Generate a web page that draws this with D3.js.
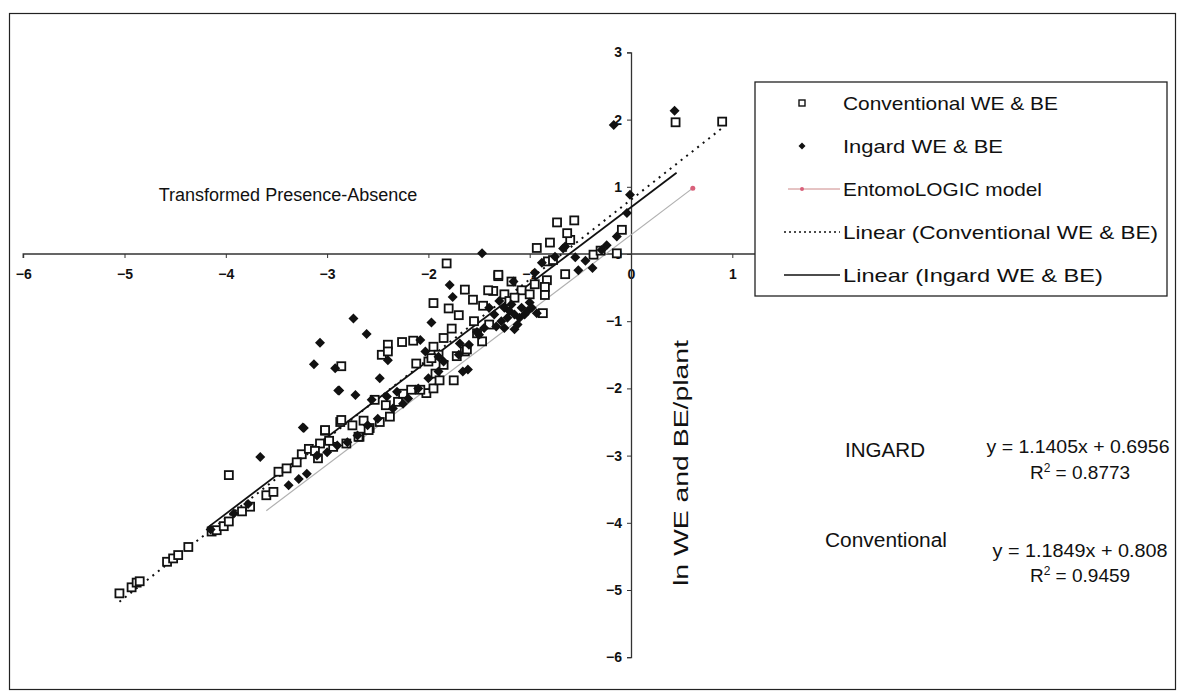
<!DOCTYPE html>
<html><head><meta charset="utf-8">
<script src="https://cdn.jsdelivr.net/npm/d3@7"></script>
<style>body{margin:0;background:#fff}svg{display:block}text{font-family:"Liberation Sans",Arial,sans-serif;fill:#111}</style>
</head><body><svg id="c" width="1184" height="700"></svg>
<script>
const xTicks=[-6,-5,-4,-3,-2,-1,0,1];
const yTicks=[-6,-5,-4,-3,-2,-1,0,1,2,3];
const conventional=[[-5.05,-5.05],[-4.93,-4.96],[-4.88,-4.89],[-4.85,-4.87],[-4.58,-4.58],[-4.52,-4.53],[-4.47,-4.48],[-4.37,-4.36],[-4.14,-4.13],[-4.09,-4.11],[-4.02,-4.05],[-3.97,-3.98],[-3.97,-3.29],[-3.84,-3.83],[-3.76,-3.76],[-3.60,-3.59],[-3.53,-3.54],[-3.48,-3.24],[-3.40,-3.19],[-3.09,-3.04],[-3.07,-2.82],[-3.02,-2.63],[-2.94,-2.87],[-2.87,-2.50],[-2.81,-2.82],[-2.68,-2.72],[-2.58,-2.59],[-2.53,-2.17],[-3.02,-2.62],[-2.86,-2.47],[-2.59,-2.62],[-2.48,-2.50],[-2.38,-2.42],[-2.69,-2.72],[-3.25,-2.98],[-3.18,-2.9],[-2.75,-2.55],[-2.3,-2.2],[-2.17,-2.02],[-2.02,-2.07],[-1.95,-2.00],[-2.12,-1.63],[-1.75,-1.88],[-1.64,-1.45],[-1.47,-1.30],[-2.86,-1.67],[-2.40,-1.35],[-2.46,-1.50],[-2.40,-1.45],[-2.26,-1.31],[-2.15,-1.29],[-1.95,-1.38],[-1.77,-1.11],[-1.70,-0.91],[-1.80,-0.81],[-1.46,-0.77],[-1.36,-0.55],[-1.41,-0.54],[-1.56,-0.68],[-1.64,-0.53],[-1.95,-0.73],[-1.31,-0.33],[-1.82,-0.14],[-0.93,0.09],[-0.80,0.17],[-0.60,0.21],[-0.63,0.31],[-0.56,0.50],[-0.73,0.47],[-0.83,-0.39],[-0.85,-0.49],[-0.85,-0.61],[-0.87,-0.88],[-0.82,-0.11],[-0.77,-0.09],[-0.37,-0.01],[-1.18,-0.41],[-1.08,-0.54],[-1.31,-0.31],[-1.25,-0.6],[-1.2,-0.7],[-1.55,-1.0],[-1.85,-1.25],[-2.0,-1.6],[-1.9,-1.5],[-0.09,0.36],[-0.14,0.01],[0.44,1.96],[0.90,1.97],
 [-3.3,-3.1],[-3.12,-2.93],[-2.98,-2.78],[-2.64,-2.48],[-2.42,-2.25],[-2.25,-2.08],[-1.97,-1.55],[-1.85,-1.65],[-1.93,-1.78],[-1.89,-1.88],[-2.08,-2.02],[-1.72,-1.52],[-1.62,-1.42],[-1.52,-1.18],[-1.4,-1.05],[-1.15,-0.65],[-1.0,-0.6],[-0.95,-0.45],[-0.65,-0.3],[-0.3,0.05]];
const ingard=[[-0.17,1.92],[0.43,2.13],[-0.04,0.61],[-0.01,0.88],[-0.14,0.26],[-0.24,0.13],[-0.29,0.06],[-0.52,-0.24],[-0.38,-0.21],[-0.65,0.11],[-0.67,0.08],[-1.47,0.01],[-1.79,-0.46],[-1.76,-0.64],[-1.97,-1.02],[-2.74,-0.96],[-2.61,-1.19],[-3.07,-1.32],[-3.13,-1.64],[-2.92,-1.70],[-2.88,-2.03],[-2.72,-2.10],[-2.48,-1.85],[-2.40,-1.58],[-2.25,-2.23],[-1.61,-1.72],[-1.66,-1.75],[-0.93,-0.88],[-2.08,-1.28],[-3.23,-2.59],[-1.16,-0.41],[-1.33,-1.08],[-1.30,-0.70],[-1.25,-0.80],[-1.20,-0.85],[-1.15,-0.90],[-1.10,-0.95],[-1.22,-0.95],[-1.28,-1.00],[-1.12,-1.05],[-1.05,-0.90],[-1.18,-0.75],[-1.08,-0.80],[-1.35,-0.90],[-1.25,-1.10],[-1.15,-1.12],[-1.02,-0.85],[-3.66,-3.02],[-3.38,-3.44],[-3.28,-3.35],[-3.20,-3.27],[-3.24,-2.58],[-2.89,-2.03],[-3.1,-3.0],[-3.0,-2.95],[-2.9,-2.85],[-2.8,-2.8],[-2.7,-2.7],[-2.6,-2.55],[-2.5,-2.45],[-2.35,-2.3],[-2.2,-2.15],[-2.1,-2.0],[-2.0,-1.85],[-1.9,-1.75],[-1.85,-1.6],[-1.7,-1.5],[-1.6,-1.35],[-1.5,-1.2],[-1.45,-1.1],[-0.45,-0.1],[-0.55,-0.05],
 [-4.15,-4.1],[-3.92,-3.86],[-3.78,-3.72],[-2.56,-2.17],[-2.41,-2.12],[-2.31,-2.05],[-2.03,-1.45],[-1.90,-1.53],[-1.69,-1.33],[-1.52,-1.16],[-0.95,-0.28],[-0.88,-0.13],[-0.75,-0.04],[-1.4,-0.8],[-1.0,-0.72],[-0.98,-0.8]];
const convFit={slope:1.1849,intercept:0.808,x0:-5.05,x1:0.9};
const ingFit={slope:1.1405,intercept:0.6956,x0:-4.18,x1:0.45};
const entomologic=[[-3.6,-3.82],[0.61,0.98]];
const legendLabels=["Conventional WE & BE","Ingard WE & BE","EntomoLOGIC model","Linear (Conventional WE & BE)","Linear (Ingard WE & BE)"];

const svg=d3.select("#c");
svg.append("rect").attr("x",9.5).attr("y",13.5).attr("width",1166).attr("height",676).attr("fill","#fff").attr("stroke","#222").attr("stroke-width",1.2);
const x=d3.scaleLinear().domain([-6,2]).range([23.2,833.6]);
const y=d3.scaleLinear().domain([-6,3]).range([657.2,52.4]);
const X0=x(0),Y0=y(0);

const xa=svg.append("g").attr("transform",`translate(0,${Y0})`).call(d3.axisBottom(x).tickValues(xTicks).tickSize(4).tickFormat(d3.format("d")));
xa.select(".domain").attr("stroke","#333").attr("stroke-width",1.3).attr("d",`M${x(-6)},4V0H${x(2)}`);
xa.selectAll(".tick line").attr("stroke","#333");
xa.selectAll(".tick text").attr("dy","1.25em").style("font-size","14px").style("font-weight","bold").attr("fill","#222");
const ya=svg.append("g").attr("transform",`translate(${X0},0)`).call(d3.axisLeft(y).tickValues(yTicks).tickSize(4).tickFormat(d3.format("d")));
ya.select(".domain").attr("stroke","#333").attr("stroke-width",1.3);
ya.selectAll(".tick line").attr("stroke","#333");
ya.selectAll(".tick text").attr("x",-9).style("font-size","14px").style("font-weight","bold").attr("fill","#222");

const line=d3.line().x(d=>x(d[0])).y(d=>y(d[1]));
svg.append("path").datum(entomologic).attr("d",line).attr("fill","none").attr("stroke","#b0b0b0").attr("stroke-width",1.2);
svg.append("path").datum([[convFit.x0,convFit.slope*convFit.x0+convFit.intercept],[convFit.x1,convFit.slope*convFit.x1+convFit.intercept]]).attr("d",line).attr("fill","none").attr("stroke","#111").attr("stroke-width",2).attr("stroke-dasharray","2,5");
svg.append("path").datum([[ingFit.x0,ingFit.slope*ingFit.x0+ingFit.intercept],[ingFit.x1,ingFit.slope*ingFit.x1+ingFit.intercept]]).attr("d",line).attr("fill","none").attr("stroke","#111").attr("stroke-width",1.8);

svg.append("g").selectAll("rect").data(conventional).join("rect")
 .attr("x",d=>x(d[0])-4).attr("y",d=>y(d[1])-4).attr("width",8).attr("height",8)
 .attr("fill","#fff").attr("stroke","#111").attr("stroke-width",1.8);
const diamond="M0,-5L5,0L0,5L-5,0Z";
svg.append("g").selectAll("path").data(ingard).join("path")
 .attr("transform",d=>`translate(${x(d[0])},${y(d[1])})`).attr("d",diamond).attr("fill","#111");
svg.append("circle").attr("cx",x(entomologic[1][0])).attr("cy",y(entomologic[1][1])).attr("r",2.5).attr("fill","#d9607a");

svg.append("text").attr("x",288).attr("y",201).attr("text-anchor","middle").style("font-size","18px").text("Transformed Presence-Absence");
svg.append("text").attr("transform","translate(688,463) rotate(-90)").attr("text-anchor","middle").style("font-size","21px").attr("textLength",246).attr("lengthAdjust","spacingAndGlyphs").text("ln WE and BE/plant");
svg.append("text").attr("x",885).attr("y",457).attr("text-anchor","middle").style("font-size","20px").attr("textLength",80).attr("lengthAdjust","spacingAndGlyphs").text("INGARD");
svg.append("text").attr("x",1078).attr("y",453).attr("text-anchor","middle").style("font-size","19px").attr("textLength",183).attr("lengthAdjust","spacingAndGlyphs").text("y = 1.1405x + 0.6956");
const r1=svg.append("text").attr("x",1080).attr("y",479).attr("text-anchor","middle").style("font-size","19px");
r1.append("tspan").text("R");r1.append("tspan").attr("dy",-7).style("font-size","12px").text("2");r1.append("tspan").attr("dy",7).text(" = 0.8773");
svg.append("text").attr("x",886).attr("y",547).attr("text-anchor","middle").style("font-size","20px").attr("textLength",122).attr("lengthAdjust","spacingAndGlyphs").text("Conventional");
svg.append("text").attr("x",1080).attr("y",557).attr("text-anchor","middle").style("font-size","19px").attr("textLength",175).attr("lengthAdjust","spacingAndGlyphs").text("y = 1.1849x + 0.808");
const r2=svg.append("text").attr("x",1080).attr("y",582).attr("text-anchor","middle").style("font-size","19px");
r2.append("tspan").text("R");r2.append("tspan").attr("dy",-7).style("font-size","12px").text("2");r2.append("tspan").attr("dy",7).text(" = 0.9459");

const lg=svg.append("g");
lg.append("rect").attr("x",755).attr("y",82).attr("width",412).attr("height",214).attr("fill","#fff").attr("stroke","#222").attr("stroke-width",1.3);
const rowY=[103,146,189,232,275];
const legendWidths=[215,160,199,315,260];
legendLabels.forEach((t,i)=>{
  lg.append("text").attr("x",843).attr("y",rowY[i]+7).style("font-size","19px").attr("textLength",legendWidths[i]).attr("lengthAdjust","spacingAndGlyphs").text(t);
});
lg.append("rect").attr("x",799).attr("y",rowY[0]-3).attr("width",6).attr("height",6).attr("fill","#fff").attr("stroke","#111").attr("stroke-width",1.4);
lg.append("path").attr("transform",`translate(802,${rowY[1]}) scale(0.7)`).attr("d",diamond).attr("fill","#111");
lg.append("line").attr("x1",788).attr("x2",840).attr("y1",rowY[2]).attr("y2",rowY[2]).attr("stroke","#c88").attr("stroke-width",1);
lg.append("circle").attr("cx",802).attr("cy",rowY[2]).attr("r",2).attr("fill","#d9607a");
lg.append("line").attr("x1",784).attr("x2",840).attr("y1",rowY[3]).attr("y2",rowY[3]).attr("stroke","#111").attr("stroke-width",1.3).attr("stroke-dasharray","2,3");
lg.append("line").attr("x1",784).attr("x2",840).attr("y1",rowY[4]).attr("y2",rowY[4]).attr("stroke","#111").attr("stroke-width",1.5);
</script></body></html>
